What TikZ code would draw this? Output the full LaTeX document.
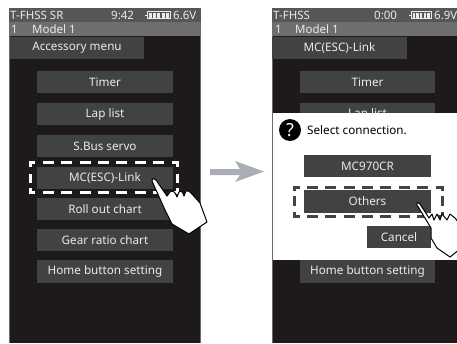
\documentclass[tikz,border=0pt]{standalone}
\usepackage{fontspec}
\setmainfont{Noto Sans}
\definecolor{scr}{HTML}{1E1A1B}
\definecolor{btnc}{HTML}{414243}
\definecolor{stat}{HTML}{565656}
\definecolor{modl}{HTML}{6E6E6E}
\definecolor{txt}{HTML}{EAEAEA}
\definecolor{edge}{HTML}{6A6A6A}
\definecolor{arrowc}{HTML}{A9ADB6}
\definecolor{dashd}{HTML}{444444}
\tikzset{
  btn/.style={fill=btnc,text=txt,inner sep=0pt,font=\fontsize{11.7}{12}\selectfont,minimum height=22pt,minimum width=136pt},
  dlgbtn/.style={btn,minimum width=127pt},
  stxt/.style={text=txt,inner sep=0pt,font=\fontsize{11.5}{12}\selectfont},
  dashln/.style={line width=3pt,dash pattern=on 11pt off 7.35pt},
  dashcorner/.style={line width=3pt},
  handf/.style={fill=white,draw=black,line width=1pt,line join=round}
}
\begin{document}
\begin{tikzpicture}[x=1pt,y=-1pt]
\useasboundingbox (0,0) rectangle (457,343);
\fill[white] (0,0) rectangle (457,343);
%% ---------- left screen
\fill[edge] (9,8) rectangle (201,343);
\fill[scr] (10,8) rectangle (200,343);
\fill[stat] (9,8) rectangle (201,22);
\fill[modl] (9,22) rectangle (201,36);
\node[stxt,anchor=west] (lt1) at (10,15.5) {T-FHSS SR};
\node[stxt,anchor=west] (lt2) at (111,15.5) {9:42};
\node[stxt,anchor=west] (lt3) at (173,15.5) {6.6V};
\node[stxt,anchor=west] (lt4) at (11,29.5) {1};
\node[stxt,anchor=west] (lt5) at (32,29.5) {Model 1};
\draw[txt,line width=.6pt] (145,15) -- (147,15) (147,11.5) rectangle (170,18.5);
\foreach \i in {0,...,4}{\fill[txt] (149+\i*4.2,12.5) rectangle (152+\i*4.2,17.5);}
\node[btn,minimum width=134pt] (ltab) at (77,47.5) {Accessory menu};
\node[btn] (l1) at (105,82) {Timer};
\node[btn] (l2) at (105,114) {Lap list};
\node[btn] (l3) at (105,146) {S.Bus servo};
\node[btn] (l4) at (105,178) {MC(ESC)-Link};
\node[btn] (l5) at (105,209) {Roll out chart};
\node[btn] (l6) at (105,240) {Gear ratio chart};
\node[btn,minimum height=23pt] (l7) at (105,271.5) {Home button setting};
\begin{scope}[white]
\draw[dashln] (43,162.5) -- (165,162.5);
\draw[dashln] (43,192) -- (165,192);
\draw[dashcorner] (30,167) -- (30,162.5) -- (35,162.5);
\draw[dashcorner] (172,162.5) -- (177,162.5) -- (177,167);
\draw[dashcorner] (30,188) -- (30,192) -- (35,192);
\draw[dashcorner] (172,192) -- (177,192) -- (177,188);
\draw[dashcorner] (30,174) -- (30,183);
\draw[dashcorner] (177,174) -- (177,183);
\end{scope}
%% left hand
\draw[handf] (152,181) .. controls (152,178) and (155,178) .. (156,180)
  -- (167,196) -- (170,192) .. controls (172,190) and (175,191) .. (177,197)
  -- (179,192) .. controls (181,190) and (183,192) .. (184,196)
  -- (186,191) .. controls (188,190) and (190,192) .. (191,193)
  -- (200,203) -- (207,222) -- (189,234) -- (172,224) -- (165,210) -- cycle;
%% ---------- arrow
\fill[arrowc] (210,169) -- (240,169) -- (235,161) -- (264,171.5) -- (235,182) -- (240,175) -- (210,175) -- cycle;
%% ---------- right screen
\fill[edge] (272,8) rectangle (457,343);
\fill[scr] (273,8) rectangle (457,343);
\fill[stat] (272,8) rectangle (457,22);
\fill[modl] (272,22) rectangle (457,36);
\node[stxt,anchor=west] (rt1) at (273,15.5) {T-FHSS};
\node[stxt,anchor=west] (rt2) at (374,15.5) {0:00};
\node[stxt,anchor=west] (rt3) at (434,15.5) {6.9V};
\node[stxt,anchor=west] (rt4) at (275,29.5) {1};
\node[stxt,anchor=west] (rt5) at (295,29.5) {Model 1};
\draw[txt,line width=.6pt] (409,15) -- (411,15) (411,11.5) rectangle (431,18.5);
\foreach \i in {0,...,4}{\fill[txt] (412.5+\i*3.7,12.5) rectangle (415+\i*3.7,17.5);}
\node[btn,minimum width=135pt] (rtab) at (339.5,47.5) {MC(ESC)-Link};
\node[btn,minimum width=135pt] (r1) at (367.5,82) {Timer};
\node[btn,minimum width=135pt] (r2) at (367.5,114) {Lap list};
\node[btn,minimum width=135pt,minimum height=23pt] (r7) at (367.5,271.5) {Home button setting};
\fill[white] (273,113) rectangle (457,260);
\fill[black] (290,130) circle (11);
\node[text=white,inner sep=0pt,font=\fontsize{18}{18}\selectfont\bfseries] (qm) at (290,130) {?};
\node[anchor=west,text=black,inner sep=0pt,font=\fontsize{11.7}{12}\selectfont] (sel) at (307,130.5) {Select connection.};
\node[dlgbtn] (r3) at (367.5,166) {MC970CR};
\node[dlgbtn,minimum height=23pt] (r4) at (367.5,201.5) {Others};
\node[btn,minimum width=64pt] (r5) at (399,237) {Cancel};
\begin{scope}[dashd]
\draw[dashln] (307,187) -- (429,187);
\draw[dashln] (307,216.5) -- (429,216.5);
\draw[dashcorner] (294,191) -- (294,187) -- (300,187);
\draw[dashcorner] (436,187) -- (442,187) -- (442,191);
\draw[dashcorner] (294,212) -- (294,216.5) -- (300,216.5);
\draw[dashcorner] (436,216.5) -- (442,216.5) -- (442,212);
\draw[dashcorner] (294,196) -- (294,206);
\draw[dashcorner] (442,196) -- (442,206);
\end{scope}
%% right hand
\begin{scope}
\clip (0,0) rectangle (457,343);
\draw[handf] (417,205) .. controls (416,202) and (419,202) .. (420,204)
  -- (429,218) -- (432,214) -- (434,220) -- (437,214) -- (440,220)
  -- (442,214) -- (447,220) -- (450,214) -- (455,218) -- (460,224)
  -- (460,249) -- (450,257) -- (437,248) -- (431,238) -- (431,228) -- cycle;
\end{scope}
\end{tikzpicture}
\end{document}
